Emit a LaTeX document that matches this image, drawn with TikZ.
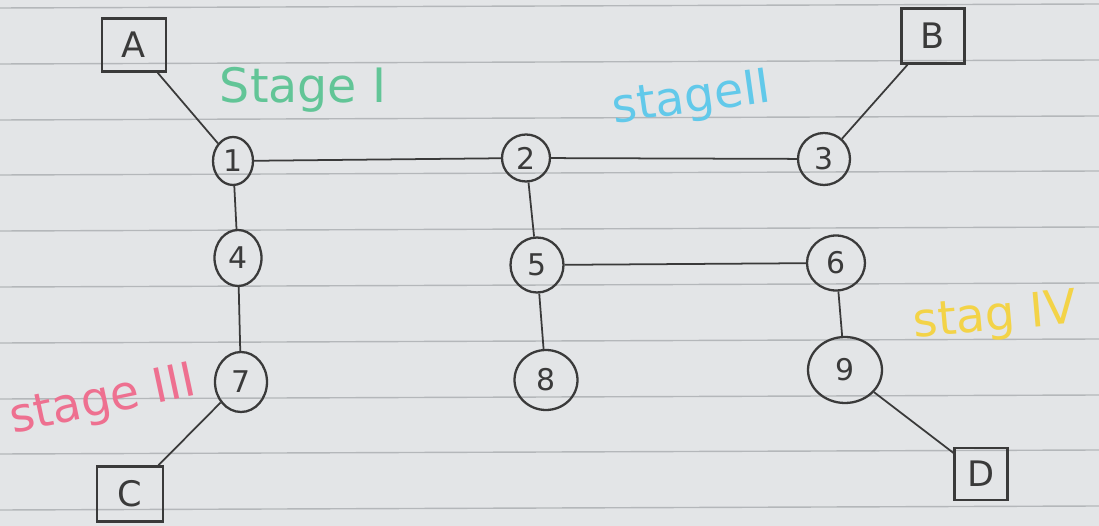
\documentclass[tikz,border=0pt]{standalone}
\usepackage{fontspec}
\setmainfont{DejaVu Sans}
\usetikzlibrary{shapes.geometric}
\definecolor{paper}{HTML}{E3E5E7}
\definecolor{rule}{HTML}{B4B7BA}
\definecolor{ink}{HTML}{3A3A3A}
\definecolor{sgreen}{HTML}{62C597}
\definecolor{scyan}{HTML}{62C9EA}
\definecolor{spink}{HTML}{EE7090}
\definecolor{syellow}{HTML}{F3D347}
\tikzset{
  vtx/.style={ellipse,draw=ink,line width=1.3pt,inner sep=0pt,font=\fontsize{17}{17}\selectfont,text=ink},
  term/.style={rectangle,draw=ink,line width=1.4pt,inner sep=0pt,font=\fontsize{20}{20}\selectfont,text=ink},
  link/.style={draw=ink,line width=1pt},
  stagelbl/.style={font=\fontsize{27}{27}\selectfont},
  ruling/.style={draw=rule,line width=0.8pt}
}
\begin{document}
\begin{tikzpicture}[x=0.02cm,y=-0.02cm]
\fill[paper] (0,0) rectangle (1099,526);
\useasboundingbox (0,0) rectangle (1099,526);
\foreach \yy in {6,62,118,173,229,285,341,397,452,508}
  \draw[ruling] (0,\yy+2) -- (1099,\yy-2);
% terminals
\node[term,minimum width=1.28cm,minimum height=1.06cm] (A) at (134,45) {A};
\node[term,minimum width=1.26cm,minimum height=1.1cm] (B) at (933,36) {B};
\node[term,minimum width=1.32cm,minimum height=1.1cm] (C) at (130,494) {C};
\node[term,minimum width=1.06cm,minimum height=1.04cm] (D) at (981,474) {D};
% vertices
\node[vtx,minimum width=0.8cm,minimum height=0.96cm] (n1) at (233,161) {1};
\node[vtx,minimum width=0.96cm,minimum height=0.94cm] (n2) at (526,158) {2};
\node[vtx,minimum width=1.04cm,minimum height=1.04cm] (n3) at (824,159) {3};
\node[vtx,minimum width=0.94cm,minimum height=1.12cm] (n4) at (238,258) {4};
\node[vtx,minimum width=1.06cm,minimum height=1.1cm] (n5) at (537,265) {5};
\node[vtx,minimum width=1.16cm,minimum height=1.1cm] (n6) at (836,263) {6};
\node[vtx,minimum width=1.04cm,minimum height=1.2cm] (n7) at (241,382) {7};
\node[vtx,minimum width=1.26cm,minimum height=1.2cm] (n8) at (546,380) {8};
\node[vtx,minimum width=1.48cm,minimum height=1.32cm] (n9) at (845,370) {9};
% connectors
\draw[link] (A) -- (n1);
\draw[link] (n1) -- (n2);
\draw[link] (n2) -- (n3);
\draw[link] (n3) -- (B);
\draw[link] (n1) -- (n4);
\draw[link] (n4) -- (n7);
\draw[link] (n7) -- (C);
\draw[link] (n2) -- (n5);
\draw[link] (n5) -- (n6);
\draw[link] (n5) -- (n8);
\draw[link] (n6) -- (n9);
\draw[link] (n9) -- (D);
% stage labels
\node[stagelbl,text=sgreen] (s1) at (303,90) {Stage I};
\node[stagelbl,text=scyan,rotate=8] (s2) at (692,100) {stageII};
\node[stagelbl,text=spink,rotate=12] (s3) at (103,402) {stage III};
\node[stagelbl,text=syellow,rotate=5] (s4) at (995,318) {stag IV};
\end{tikzpicture}
\end{document}
